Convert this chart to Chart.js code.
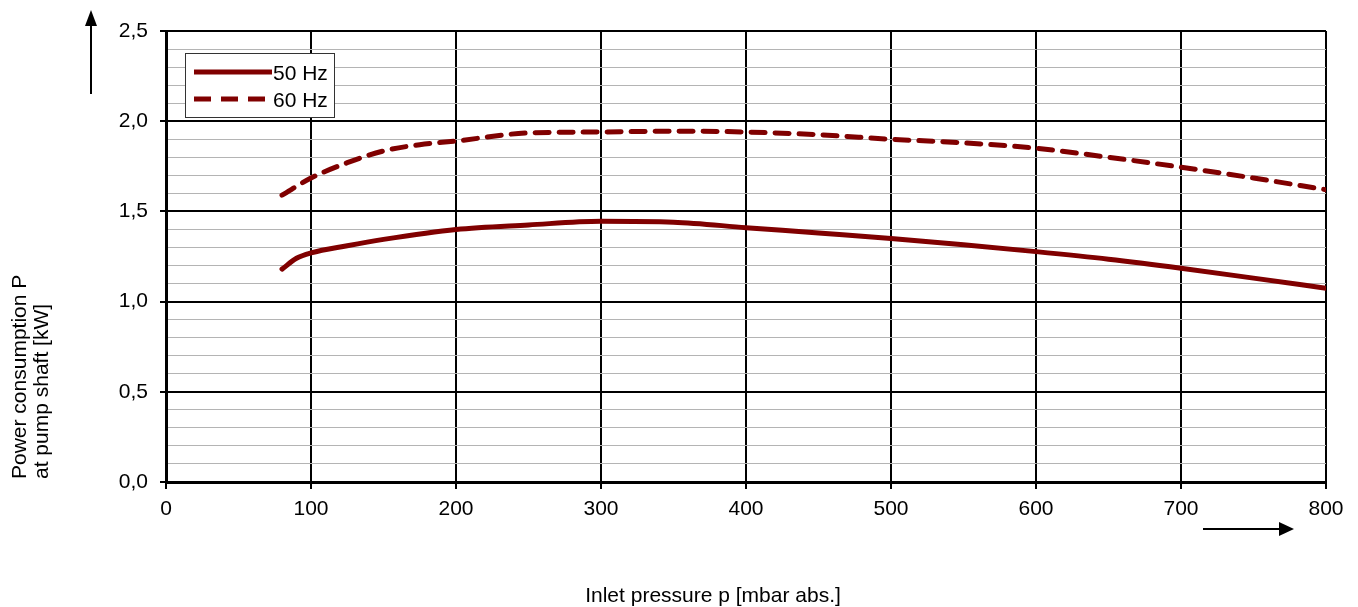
<!DOCTYPE html>
<html>
<head>
<meta charset="utf-8">
<script src="https://cdn.jsdelivr.net/npm/chart.js@4/dist/chart.umd.min.js"></script>
<style>
    html, body { margin: 0; padding: 0; background: #fff; }
    #wrap { width: 1358px; height: 607px; }
</style>
</head>
<body>
<div id="wrap"><canvas id="powerChart"></canvas></div>
<script>
// Inlet pressure in mbar abs.
const pressure50 = [80, 90, 100, 125, 150, 200, 250, 300, 350, 400, 450, 500, 550, 600, 650, 700, 750, 800];
const power50 = [1.18, 1.24, 1.27, 1.31, 1.345, 1.40, 1.425, 1.445, 1.44, 1.41, 1.38, 1.35, 1.315, 1.277, 1.235, 1.185, 1.13, 1.074];

const pressure60 = [80, 100, 125, 150, 175, 200, 250, 300, 350, 400, 450, 500, 550, 600, 650, 700, 750, 800];
const power60 = [1.59, 1.685, 1.77, 1.835, 1.87, 1.89, 1.935, 1.94, 1.945, 1.94, 1.925, 1.90, 1.88, 1.85, 1.80, 1.745, 1.685, 1.62];

const seriesLabels = ['50 Hz', '60 Hz'];
const yTickLabels = ['0,0', '0,5', '1,0', '1,5', '2,0', '2,5'];

const lineColor = '#800000';
const fontFamily = '"Liberation Sans", Arial, sans-serif';

function toPoints(xs, ys) {
    return xs.map((x, i) => ({ x: x, y: ys[i] }));
}

function isMajor(value) {
    return Math.abs(value * 2 - Math.round(value * 2)) < 1e-6;
}

// Draws the axis titles, direction arrows and the boxed legend.
const decorations = {
    id: 'decorations',
    afterDraw(chart) {
        const ctx = chart.ctx;
        ctx.save();

        ctx.fillStyle = '#000';
        ctx.font = '21px ' + fontFamily;
        ctx.textAlign = 'center';
        ctx.textBaseline = 'middle';
        ctx.fillText('Inlet pressure p [mbar abs.]', 713, 596);

        ctx.save();
        ctx.translate(20, 479);
        ctx.rotate(-Math.PI / 2);
        ctx.textAlign = 'left';
        ctx.fillText('Power consumption P', 0, 0);
        ctx.fillText('at pump shaft [kW]', 0, 22);
        ctx.restore();

        // arrows
        ctx.strokeStyle = '#000';
        ctx.lineWidth = 2;
        ctx.beginPath();
        ctx.moveTo(91, 94);
        ctx.lineTo(91, 24);
        ctx.stroke();
        ctx.beginPath();
        ctx.moveTo(91, 10);
        ctx.lineTo(85, 26);
        ctx.lineTo(97, 26);
        ctx.closePath();
        ctx.fill();

        ctx.beginPath();
        ctx.moveTo(1203, 529);
        ctx.lineTo(1280, 529);
        ctx.stroke();
        ctx.beginPath();
        ctx.moveTo(1294, 529);
        ctx.lineTo(1279, 522);
        ctx.lineTo(1279, 536);
        ctx.closePath();
        ctx.fill();

        // legend box
        ctx.fillStyle = '#fff';
        ctx.fillRect(185, 53, 149, 64);
        ctx.strokeStyle = '#333';
        ctx.lineWidth = 1;
        ctx.strokeRect(185.5, 53.5, 149, 64);

        chart.data.datasets.forEach((ds, i) => {
            const y = 73 + i * 27;
            ctx.strokeStyle = ds.borderColor;
            ctx.lineWidth = ds.borderWidth;
            ctx.lineCap = 'butt';
            ctx.setLineDash(ds.borderDash ? [17, 10] : []);
            ctx.beginPath();
            ctx.moveTo(194, y - 1);
            ctx.lineTo(272, y - 1);
            ctx.stroke();
            ctx.setLineDash([]);
            ctx.fillStyle = '#000';
            ctx.textAlign = 'left';
            ctx.font = '21px ' + fontFamily;
            ctx.fillText(ds.label, 273, y + 1);
        });

        ctx.restore();
    }
};

const config = {
    type: 'line',
    data: {
        datasets: [
            {
                label: seriesLabels[0],
                data: toPoints(pressure50, power50),
                borderColor: lineColor,
                borderWidth: 5,
                borderCapStyle: 'round',
                pointRadius: 0,
                cubicInterpolationMode: 'monotone'
            },
            {
                label: seriesLabels[1],
                data: toPoints(pressure60, power60),
                borderColor: lineColor,
                borderWidth: 5,
                borderDash: [14, 10],
                borderCapStyle: 'round',
                pointRadius: 0,
                cubicInterpolationMode: 'monotone'
            }
        ]
    },
    options: {
        responsive: true,
        maintainAspectRatio: false,
        animation: false,
        layout: {
            padding: { left: 0, right: 32, top: 31, bottom: 0 }
        },
        plugins: {
            legend: { display: false },
            tooltip: { enabled: false }
        },
        scales: {
            x: {
                type: 'linear',
                min: 0,
                max: 800,
                afterFit: (scale) => { scale.height = 125; },
                ticks: {
                    stepSize: 100,
                    color: '#000',
                    padding: 8,
                    font: { family: fontFamily, size: 21 }
                },
                grid: {
                    color: '#000',
                    lineWidth: 2,
                    tickLength: 7,
                    tickColor: '#000',
                    tickWidth: 2
                },
                border: { color: '#000', width: 3 }
            },
            y: {
                min: 0,
                max: 2.5,
                afterFit: (scale) => { scale.width = 166; },
                ticks: {
                    stepSize: 0.1,
                    autoSkip: false,
                    color: '#000',
                    padding: 12,
                    font: { family: fontFamily, size: 21 },
                    callback: (value) => isMajor(value) ? yTickLabels[Math.round(value * 2)] : ''
                },
                grid: {
                    color: (c) => isMajor(c.tick.value) ? '#000' : '#b4b4b4',
                    lineWidth: (c) => isMajor(c.tick.value) ? 2 : 1,
                    tickLength: 6,
                    tickColor: (c) => isMajor(c.tick.value) ? '#000' : 'rgba(0,0,0,0)',
                    tickWidth: 2
                },
                border: { color: '#000', width: 3 }
            }
        }
    },
    plugins: [decorations]
};

new Chart(document.getElementById('powerChart'), config);
</script>
</body>
</html>
